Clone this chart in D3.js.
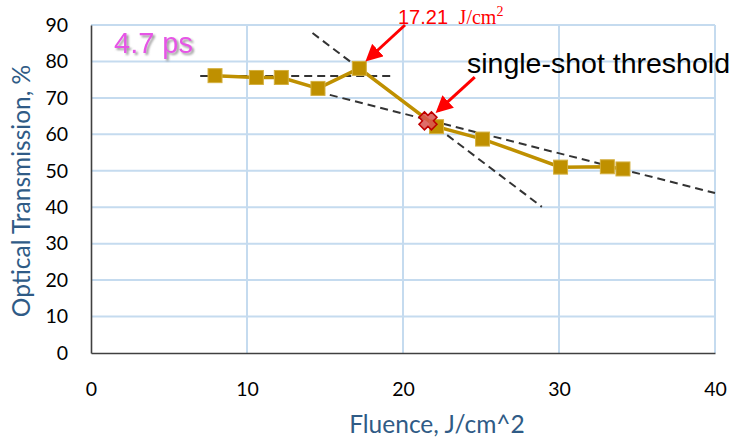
<!DOCTYPE html>
<html>
<head>
<meta charset="utf-8">
<script src="https://cdn.jsdelivr.net/npm/d3@7"></script>
<style>
  html, body { margin: 0; padding: 0; background: #fff; }
  svg { display: block; }
</style>
</head>
<body>
<div id="chart"></div>
<script>
// measured values (fluence J/cm^2, transmission %)
const fluence = [7.95, 10.6, 12.2, 14.55, 17.2, 22.15, 25.1, 30.1, 33.1, 34.1];
const transmission = [76.1, 75.6, 75.6, 72.6, 78.1, 62.1, 58.7, 51.0, 51.1, 50.5];

// single-shot threshold point
const thresholdPoint = [21.6, 63.7];

// dashed fit lines, [x, y] end points
const fitFlat = [[7.0, 76], [19.2, 76]];
const fitSteep = [[14.2, 87.8], [28.9, 40.1]];
const fitShallow = [[14.5, 71.7], [40, 43.9]];

const xTicks = [0, 10, 20, 30, 40];
const yTicks = [0, 10, 20, 30, 40, 50, 60, 70, 80, 90];

const W = 742, H = 437;
const margin = { top: 25, right: 27, bottom: 84, left: 91 };
const innerW = W - margin.left - margin.right;
const innerH = H - margin.top - margin.bottom;

const x = d3.scaleLinear().domain([0, 40]).range([0, innerW]);
const y = d3.scaleLinear().domain([0, 90]).range([innerH, 0]);

const svg = d3.select('#chart').append('svg')
  .attr('width', W)
  .attr('height', H);

const defs = svg.append('defs');
defs.append('marker')
  .attr('id', 'arrow')
  .attr('viewBox', '0 0 10 10')
  .attr('refX', 8)
  .attr('refY', 5)
  .attr('markerUnits', 'userSpaceOnUse')
  .attr('markerWidth', 17)
  .attr('markerHeight', 17)
  .attr('orient', 'auto')
  .append('path')
  .attr('d', 'M0,0 L10,5 L0,10 z')
  .attr('fill', '#ff0000');

const shadow = defs.append('filter').attr('id', 'txtShadow')
  .attr('x', '-10%').attr('y', '-10%').attr('width', '130%').attr('height', '140%');
shadow.append('feDropShadow')
  .attr('dx', 2).attr('dy', 2).attr('stdDeviation', 1)
  .attr('flood-color', '#808080').attr('flood-opacity', 0.8);

const g = svg.append('g').attr('transform', `translate(${margin.left},${margin.top})`);

// gridlines
g.append('g')
  .selectAll('line')
  .data(yTicks.filter((d) => d > 0))
  .join('line')
  .attr('x1', 0).attr('x2', innerW)
  .attr('y1', (d) => y(d)).attr('y2', (d) => y(d))
  .attr('stroke', '#c5dbef').attr('stroke-width', 2);

g.append('g')
  .selectAll('line')
  .data(xTicks.filter((d) => d > 0))
  .join('line')
  .attr('x1', (d) => x(d)).attr('x2', (d) => x(d))
  .attr('y1', 0).attr('y2', innerH)
  .attr('stroke', '#c5dbef').attr('stroke-width', 2);

// axes
const xAxis = g.append('g')
  .attr('transform', `translate(0,${innerH})`)
  .call(d3.axisBottom(x).tickValues(xTicks).tickSize(0).tickPadding(29));
const yAxis = g.append('g')
  .call(d3.axisLeft(y).tickValues(yTicks).tickSize(0).tickPadding(23));

[xAxis, yAxis].forEach((ax) => {
  ax.select('.domain').attr('stroke', '#404040').attr('stroke-width', 1.6);
  ax.selectAll('text')
    .attr('fill', '#000')
    .style('font-family', 'Lato, "Open Sans", sans-serif')
    .style('font-size', '19.5px');
});

// dashed fit lines
const line = d3.line().x((d) => x(d[0])).y((d) => y(d[1]));
g.append('g')
  .selectAll('path')
  .data([fitFlat, fitSteep, fitShallow])
  .join('path')
  .attr('d', line)
  .attr('fill', 'none')
  .attr('stroke', '#333')
  .attr('stroke-width', 2)
  .attr('stroke-dasharray', '8,5');

// data series
const series = fluence.map((f, i) => [f, transmission[i]]);
g.append('path')
  .datum(series)
  .attr('d', line)
  .attr('fill', 'none')
  .attr('stroke', '#bf9000')
  .attr('stroke-width', 3.5);

const sq = 14;
g.append('g')
  .selectAll('rect')
  .data(series)
  .join('rect')
  .attr('x', (d) => x(d[0]) - sq / 2)
  .attr('y', (d) => y(d[1]) - sq / 2)
  .attr('width', sq)
  .attr('height', sq)
  .attr('fill', '#bf9000')
  .attr('stroke', '#d4b040')
  .attr('stroke-width', 1);

// red cross at threshold
const crossPath = 'M-3.5,-9 L0,-5.5 L3.5,-9 L9,-3.5 L5.5,0 L9,3.5 L3.5,9 L0,5.5 L-3.5,9 L-9,3.5 L-5.5,0 L-9,-3.5 Z';
g.append('path')
  .attr('d', crossPath)
  .attr('transform', `translate(${x(thresholdPoint[0])},${y(thresholdPoint[1])})`)
  .attr('fill', '#d9534f')
  .attr('fill-opacity', 0.85)
  .attr('stroke', '#c00000')
  .attr('stroke-width', 1.5);

// annotation arrows
const arrows = [
  { from: [20.13, 90.0], to: [17.75, 80.6] },
  { from: [24.6, 75.7], to: [22.25, 66.5] },
];
g.append('g')
  .selectAll('line')
  .data(arrows)
  .join('line')
  .attr('x1', (d) => x(d.from[0])).attr('y1', (d) => y(d.from[1]))
  .attr('x2', (d) => x(d.to[0])).attr('y2', (d) => y(d.to[1]))
  .attr('stroke', '#ff0000')
  .attr('stroke-width', 3)
  .attr('marker-end', 'url(#arrow)');

// annotation texts
const fluenceLabel = svg.append('text')
  .attr('x', 398).attr('y', 24)
  .attr('fill', '#ff0000')
  .style('font-size', '20px');
fluenceLabel.append('tspan')
  .style('font-family', '"Liberation Sans", Arial, sans-serif')
  .text('17.21 ');
fluenceLabel.append('tspan')
  .style('font-family', '"Liberation Serif", "Times New Roman", serif')
  .text('\u00a0J/cm');
fluenceLabel.append('tspan')
  .style('font-family', '"Liberation Serif", "Times New Roman", serif')
  .style('font-size', '14px')
  .attr('dy', -8)
  .text('2');

svg.append('text')
  .attr('x', 467).attr('y', 73)
  .attr('fill', '#000')
  .style('font-family', '"Liberation Sans", Arial, sans-serif')
  .style('font-size', '28.5px')
  .text('single-shot threshold');

svg.append('text')
  .attr('x', 114).attr('y', 53)
  .attr('fill', '#e655e6')
  .attr('filter', 'url(#txtShadow)')
  .style('font-family', '"Liberation Sans", Arial, sans-serif')
  .style('font-size', '29px')
  .text('4.7 ps');

// axis titles
svg.append('text')
  .attr('x', 437)
  .attr('y', 433)
  .attr('text-anchor', 'middle')
  .attr('fill', '#2f5b86')
  .style('font-family', 'Lato, "Open Sans", sans-serif')
  .style('font-size', '24.5px')
  .text('Fluence, J/cm^2');

svg.append('text')
  .attr('transform', `translate(30,191) rotate(-90)`)
  .attr('text-anchor', 'middle')
  .attr('fill', '#2f5b86')
  .style('font-family', 'Lato, "Open Sans", sans-serif')
  .style('font-size', '24.5px')
  .text('Optical Transmission, %');
</script>
</body>
</html>
